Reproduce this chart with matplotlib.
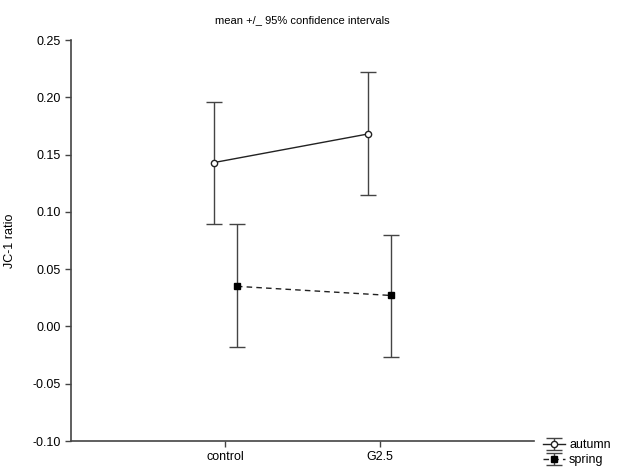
import matplotlib
matplotlib.use('Agg')
import matplotlib.pyplot as plt

# data
groups = ["control", "G2.5"]
series = ["autumn", "spring"]
autumn_mean = [0.143, 0.168]
autumn_low = [0.089, 0.115]
autumn_high = [0.196, 0.222]
spring_mean = [0.035, 0.027]
spring_low = [-0.018, -0.027]
spring_high = [0.089, 0.080]
yticks = [-0.10, -0.05, 0.00, 0.05, 0.10, 0.15, 0.20, 0.25]

plt.rcParams['font.family'] = ['Liberation Sans', 'DejaVu Sans']

fig = plt.figure(figsize=(6.19, 4.69), dpi=100)
ax = fig.add_axes([0.1147, 0.0597, 0.748, 0.855])

pos = [1, 2]
off = 0.075
col = '#222222'

xa = [p - off for p in pos]
xs = [p + off for p in pos]
ea = [[m - l for m, l in zip(autumn_mean, autumn_low)],
      [h - m for m, h in zip(autumn_mean, autumn_high)]]
es = [[m - l for m, l in zip(spring_mean, spring_low)],
      [h - m for m, h in zip(spring_mean, spring_high)]]

h1 = ax.errorbar(xa, autumn_mean, yerr=ea, color=col, ecolor='#444444', elinewidth=1.0,
                 capsize=5.8, capthick=1.0, lw=1.0, marker='o', ms=4.5, mfc='white',
                 mec=col, mew=1.0, label=series[0])
h2 = ax.errorbar(xs, spring_mean, yerr=es, color=col, ecolor='#444444', elinewidth=1.0,
                 capsize=5.8, capthick=1.0, lw=1.0, ls=(0, (4, 3)), marker='s', ms=4.5,
                 mfc='black', mec='black', label=series[1])

ax.set_xlim(0, 3)
ax.set_ylim(-0.10, 0.25)
ax.set_xticks(pos)
ax.set_xticklabels(groups)
ax.set_yticks(yticks)
ax.set_yticklabels([f"{t:.2f}" for t in yticks])
ax.tick_params(direction='out', length=4, width=1, color='#444444', labelsize=9)
for s in ['top', 'right']:
    ax.spines[s].set_visible(False)
for s in ['left', 'bottom']:
    ax.spines[s].set_color('#444444')
    ax.spines[s].set_linewidth(1.2)

ax.set_ylabel("JC-1 ratio", fontsize=9, labelpad=12)
ax.set_title("mean +/_ 95% confidence intervals", fontsize=8, pad=12)

ax.legend(handles=[h1, h2], loc='lower left', bbox_to_anchor=(1.0, -0.085),
          frameon=False, fontsize=9, handlelength=1.8, handletextpad=0.3,
          labelspacing=0.25, borderpad=0.2)

fig.savefig("out.png", dpi=100)
